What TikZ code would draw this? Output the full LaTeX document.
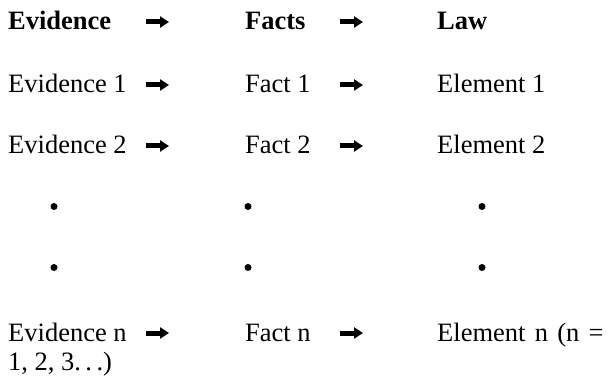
\documentclass[tikz,border=0pt]{standalone}
\usepackage{fontspec}
\setmainfont{Liberation Serif}
\usetikzlibrary{arrows.meta}
\begin{document}
\begin{tikzpicture}[x=1pt,y=-1pt,
  txt/.style={anchor=base west,inner sep=0pt,font=\fontsize{26.5}{30}\selectfont},
  hd/.style={txt,font=\fontsize{26.5}{30}\selectfont\bfseries},
  dot/.style={circle,fill=black,inner sep=0pt,minimum size=7pt},
  heavyarrow/.style={line width=5pt,-{Triangle[length=9pt,width=11pt]}}]
\useasboundingbox (0,0) rectangle (611,377);
% header row
\node[hd] (ev) at (8,30) {Evidence};
\node[hd] (fa) at (245,30) {Facts};
\node[hd] (la) at (437,30) {Law};
% row 1
\node[txt] (ev1) at (8,93) {Evidence 1};
\node[txt] (fa1) at (245,93) {Fact 1};
\node[txt] (el1) at (437,93) {Element 1};
% row 2
\node[txt] (ev2) at (8,154) {Evidence 2};
\node[txt] (fa2) at (245,154) {Fact 2};
\node[txt] (el2) at (437,154) {Element 2};
% dots
\node[dot] (d11) at (54,206.5) {};
\node[dot] (d12) at (248,206.5) {};
\node[dot] (d13) at (482,206.5) {};
\node[dot] (d21) at (54,267.5) {};
\node[dot] (d22) at (248,267.5) {};
\node[dot] (d23) at (482,267.5) {};
% row n
\node[txt] (evn) at (8,341) {Evidence n};
\node[txt] (fan) at (245,341) {Fact n};
\node[txt] (eln) at (437,341) {Element\hspace{0.35em}n\hspace{0.35em}(n\hspace{0.35em}=};
\node[txt] (cont) at (8,370) {1, 2, 3.\,.\,.)};
% arrows
\foreach \r/\y in {h/22,a/85,b/146,n/333}{
  \coordinate (s1\r) at (146,\y); \coordinate (e1\r) at (169,\y);
  \coordinate (s2\r) at (340,\y); \coordinate (e2\r) at (363,\y);
  \draw[heavyarrow] (s1\r) -- (e1\r);
  \draw[heavyarrow] (s2\r) -- (e2\r);
}
\end{tikzpicture}
\end{document}
